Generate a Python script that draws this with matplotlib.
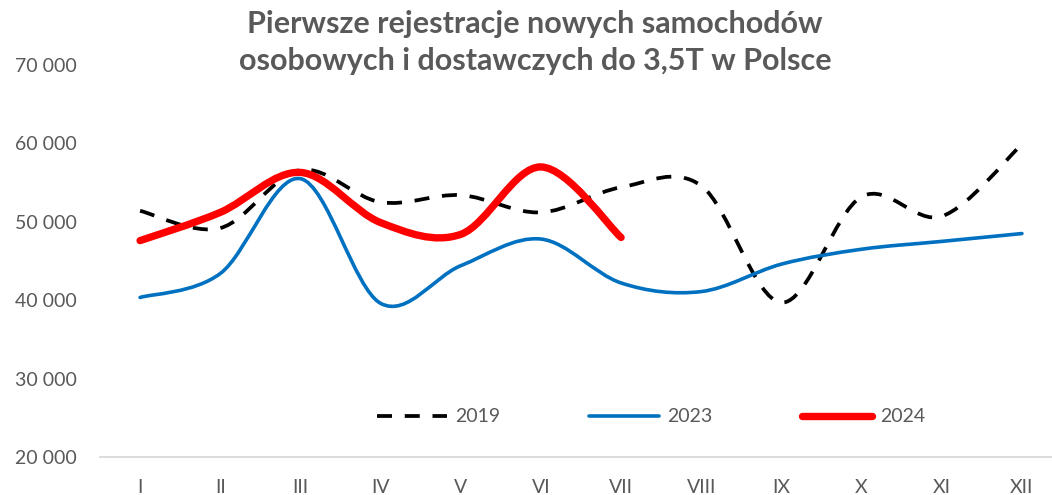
import numpy as np
import matplotlib
matplotlib.use('Agg')
import matplotlib.pyplot as plt
from matplotlib.path import Path
from matplotlib.patches import PathPatch
from matplotlib.lines import Line2D
from matplotlib.ticker import FuncFormatter

plt.rcParams['font.family'] = ['Lato', 'DejaVu Sans']

# ////////////////////////////////////////////////////
months = ['I', 'II', 'III', 'IV', 'V', 'VI', 'VII', 'VIII', 'IX', 'X', 'XI', 'XII']
reg_2019 = [51400, 49200, 56600, 52500, 53400, 51200, 54400, 54600, 39700, 53200, 50700, 59900]
reg_2023 = [40350, 43400, 55500, 39600, 44400, 47800, 42200, 41100, 44600, 46500, 47500, 48500]
reg_2024 = [47600, 51200, 56300, 49900, 48400, 57000, 48000]

title = 'Pierwsze rejestracje nowych samochodów\nosobowych i dostawczych do 3,5T w Polsce'
gray = '#595959'


def smooth_path(xs, ys, k=1/6):
    # bezier path like the excel "smoothed line"
    pts = np.column_stack([xs, ys]).astype(float)
    n = len(pts)
    verts = [pts[0]]
    codes = [Path.MOVETO]
    for i in range(n - 1):
        p0 = pts[i - 1] if i > 0 else pts[i]
        p1 = pts[i]
        p2 = pts[i + 1]
        p3 = pts[i + 2] if i + 2 < n else pts[i + 1]
        c1 = p1 + (p2 - p0) * k
        c2 = p2 - (p3 - p1) * k
        verts += [c1, c2, p2]
        codes += [Path.CURVE4] * 3
    return Path(verts, codes)


fig = plt.figure(figsize=(10.52, 4.95), dpi=100)
ax = fig.add_axes([100 / 1052, 1 - 457 / 495, 962 / 1052, (457 - 65) / 495])

series = [
    (reg_2019, '2019', dict(color='black', lw=2.7, ls=(0, (4, 3.4)), capstyle='butt')),
    (reg_2023, '2023', dict(color='#0070C0', lw=2.6, ls='-', capstyle='round')),
    (reg_2024, '2024', dict(color='#FF0000', lw=5.3, ls='-', capstyle='round')),
]

handles = []
for vals, name, st in series:
    x = np.arange(len(vals))
    p = PathPatch(smooth_path(x, vals), fill=False, edgecolor=st['color'], lw=st['lw'],
                  linestyle=st['ls'], capstyle=st['capstyle'], joinstyle='round', zorder=3)
    ax.add_patch(p)
    handles.append(Line2D([], [], color=st['color'], lw=st['lw'], ls=st['ls'],
                          solid_capstyle=st['capstyle'], dash_capstyle='butt'))

ax.set_xlim(-0.5, 11.5)
ax.set_ylim(20000, 70000)
ax.set_xticks(range(len(months)))
ax.set_xticklabels(months)
ax.set_yticks(np.arange(20000, 70001, 10000))
ax.yaxis.set_major_formatter(FuncFormatter(lambda v, _: f'{int(v):,}'.replace(',', ' ')))
ax.tick_params(axis='both', length=0, colors=gray, labelsize=14)
ax.tick_params(axis='y', pad=17)
ax.tick_params(axis='x', pad=16)

for s in ['top', 'right', 'left']:
    ax.spines[s].set_visible(False)
ax.spines['bottom'].set_color('#D9D9D9')
ax.spines['bottom'].set_linewidth(1.3)

fig.text(535 / 1052, 1 - 10 / 495, title, ha='center', va='top', fontsize=22,
         fontweight='bold', color=gray, linespacing=1.38)

fig.legend(handles, ['2019', '2023', '2024'], loc='center', bbox_to_anchor=(651 / 1052, 1 - 417 / 495),
           ncol=3, frameon=False, fontsize=14, labelcolor=gray, handlelength=3.6,
           handletextpad=0.4, columnspacing=4.6)

fig.savefig('out.png', dpi=100)
